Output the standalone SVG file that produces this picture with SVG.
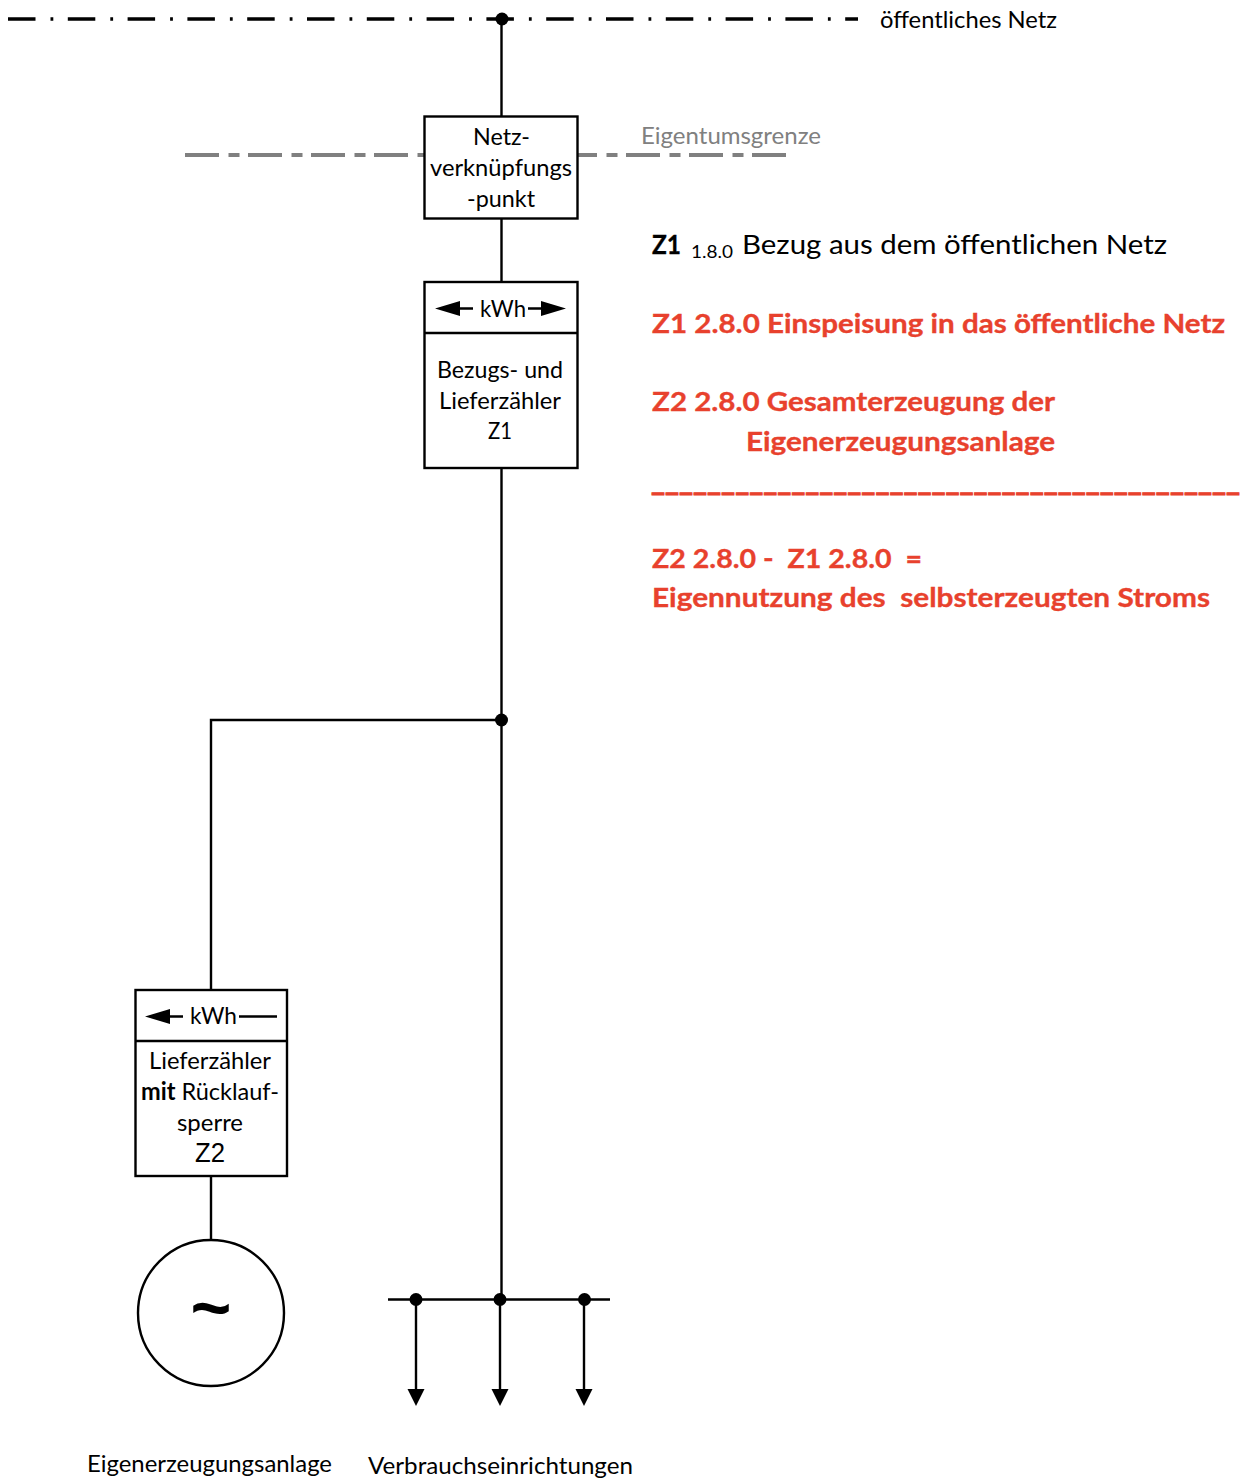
<svg xmlns="http://www.w3.org/2000/svg" width="1240" height="1479" viewBox="0 0 1240 1479">
<style>
text{font-family:Lato,"Liberation Sans",sans-serif;fill:#000;white-space:pre}
.l{font-size:24px}
.b{font-size:27.5px}
.r{font-size:27.5px;font-weight:700;fill:#E8412D;stroke:#E8412D;stroke-width:.35px}
.box{fill:#fff;stroke:#000;stroke-width:2.4}
.w{fill:none;stroke:#000;stroke-width:2.4}
.dot{fill:#000}
</style>
<defs>
<marker id="ah" markerUnits="userSpaceOnUse" markerWidth="18" markerHeight="18" refX="0" refY="9" orient="auto"><path d="M0 0.5L17 9L0 17.5Z" fill="#000"/></marker>
</defs>
<rect width="1240" height="1479" fill="#fff"/>
<g id="connectors">
<path d="M8 19H858" fill="none" stroke="#000" stroke-width="3.6" stroke-dasharray="27.500 15 2.800 14.500"/>
<path d="M185 155H787" fill="none" stroke="#808080" stroke-width="4" stroke-dasharray="34 9.500 11 8.500"/>
<path class="w" d="M501.500 19V116M501.500 218V282M501.500 468V1299M501.500 720H211V993M211 1176V1240M388 1299.500H610"/>
<path class="w" d="M416 1300V1389" marker-end="url(#ah)"/>
<path class="w" d="M500 1300V1389" marker-end="url(#ah)"/>
<path class="w" d="M584 1300V1389" marker-end="url(#ah)"/>
<circle class="dot" cx="502" cy="19" r="6.500"/>
<circle class="dot" cx="501.500" cy="720" r="6.500"/>
<circle class="dot" cx="416" cy="1299.500" r="6.500"/>
<circle class="dot" cx="500" cy="1299.500" r="6.500"/>
<circle class="dot" cx="584.500" cy="1299.500" r="6.500"/>
</g>
<g id="netz"><text class="l" x="880" y="28" textLength="177" lengthAdjust="spacingAndGlyphs">öffentliches Netz</text></g>
<g id="grenze"><text class="l" x="641" y="144" textLength="180" lengthAdjust="spacingAndGlyphs" style="fill:#808080">Eigentumsgrenze</text></g>
<g id="nvp">
<rect class="box" x="424.500" y="116.500" width="153" height="102"/>
<text class="l" x="473" y="145" textLength="57" lengthAdjust="spacingAndGlyphs">Netz-</text>
<text class="l" x="430" y="176" textLength="142" lengthAdjust="spacingAndGlyphs">verknüpfungs</text>
<text class="l" x="467" y="207" textLength="68" lengthAdjust="spacingAndGlyphs">-punkt</text>
</g>
<g id="z1">
<rect class="box" x="424.500" y="282" width="153" height="186"/>
<path class="w" d="M424.500 333H577.500M455 308.500H473M528 308.500H546"/>
<path d="M435 308.500L460 301V316ZM566 308.500L541 301V316Z"/>
<text class="l" x="480" y="317" textLength="46" lengthAdjust="spacingAndGlyphs">kWh</text>
<text class="l" x="437" y="378" textLength="126" lengthAdjust="spacingAndGlyphs">Bezugs- und</text>
<text class="l" x="439" y="409" textLength="122" lengthAdjust="spacingAndGlyphs">Lieferzähler</text>
<text class="l" x="488" y="439" textLength="24" lengthAdjust="spacingAndGlyphs">Z1</text>
</g>
<g id="z2">
<rect class="box" x="135.500" y="990" width="151.500" height="186"/>
<path class="w" d="M135.500 1041H287M163 1016.500H183M239 1016.500H277"/>
<path d="M145 1016.500L170 1009V1024Z"/>
<text class="l" x="190" y="1024" textLength="47" lengthAdjust="spacingAndGlyphs">kWh</text>
<text class="l" x="149" y="1069" textLength="122" lengthAdjust="spacingAndGlyphs">Lieferzähler</text>
<text class="l" x="141" y="1100" textLength="138" lengthAdjust="spacingAndGlyphs"><tspan font-weight="700">mit</tspan> Rücklauf-</text>
<text class="l" x="177" y="1131" textLength="66" lengthAdjust="spacingAndGlyphs">sperre</text>
<text x="195" y="1162" textLength="30" lengthAdjust="spacingAndGlyphs" style="font-family:'Liberation Sans',sans-serif;font-size:27px">Z2</text>
</g>
<g id="gen">
<circle cx="211" cy="1313" r="73" fill="#fff" stroke="#000" stroke-width="2.400"/>
<text x="211" y="1332" text-anchor="middle" style="font-family:'Liberation Sans',sans-serif;font-size:70px;font-weight:700">~</text>
<text class="l" x="87" y="1472" textLength="245" lengthAdjust="spacingAndGlyphs">Eigenerzeugungsanlage</text>
</g>
<g id="verbrauch"><text class="l" x="368" y="1474" textLength="265" lengthAdjust="spacingAndGlyphs">Verbrauchseinrichtungen</text></g>
<g id="legend">
<text class="b" x="652" y="254"><tspan font-weight="700" x="652" textLength="29" lengthAdjust="spacingAndGlyphs" style="stroke:#000;stroke-width:.35px">Z1</tspan><tspan x="691" y="258" font-size="18" textLength="42" lengthAdjust="spacingAndGlyphs">1.8.0</tspan><tspan x="742" y="254" textLength="425" lengthAdjust="spacingAndGlyphs">Bezug aus dem öffentlichen Netz</tspan></text>
<text class="r" x="652" y="333" textLength="573" lengthAdjust="spacingAndGlyphs">Z1 2.8.0 Einspeisung in das öffentliche Netz</text>
<text class="r" x="652" y="411" textLength="403" lengthAdjust="spacingAndGlyphs">Z2 2.8.0 Gesamterzeugung der</text>
<text class="r" x="746" y="451" textLength="309" lengthAdjust="spacingAndGlyphs">Eigenerzeugungsanlage</text>
<text class="r" x="651" y="491" textLength="589" lengthAdjust="spacingAndGlyphs" style="stroke-width:1px">__________________________________________</text>
<text class="r" x="652" y="568" textLength="270" lengthAdjust="spacingAndGlyphs">Z2 2.8.0 -  Z1 2.8.0  =</text>
<text class="r" x="652" y="607" textLength="558" lengthAdjust="spacingAndGlyphs">Eigennutzung des  selbsterzeugten Stroms</text>
</g>
</svg>
